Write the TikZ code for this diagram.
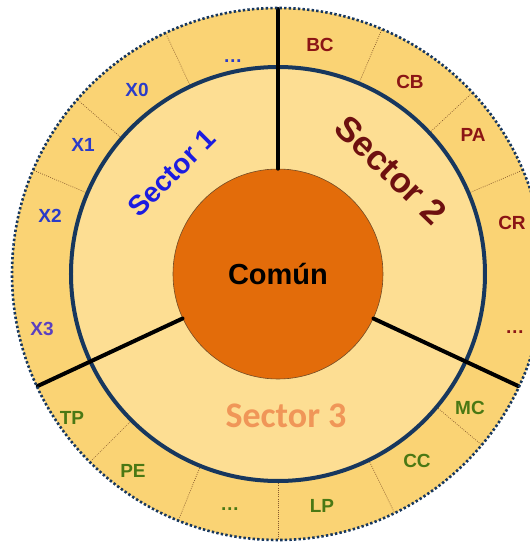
\documentclass[tikz,border=0pt]{standalone}
\usepackage{fontspec}
\setmainfont{Liberation Sans}
\newfontfamily\carlito{Carlito}
\definecolor{anillo}{HTML}{FAD374}
\definecolor{interior}{HTML}{FDDE93}
\definecolor{comun}{HTML}{E36C0A}
\definecolor{marino}{HTML}{17375E}
\definecolor{azul}{HTML}{2B3CC8}
\definecolor{azulfuerte}{HTML}{1C1CE0}
\definecolor{morado}{HTML}{5A40C0}
\definecolor{rojo}{HTML}{8B1515}
\definecolor{granate}{HTML}{6E1010}
\definecolor{verde}{HTML}{4A7814}
\definecolor{naranja}{HTML}{F09658}
\tikzset{
  etiq/.style={font=\fontsize{19}{19}\selectfont\bfseries},
  divisor/.style={draw=brown!70!black, line width=0.7, dash pattern=on 0.8 off 1.4},
  radio/.style={line width=4, line cap=round}
}
\begin{document}
\begin{tikzpicture}[x=1pt, y=1pt]
    \useasboundingbox (-278,-268) rectangle (252,274);
    \fill[anillo] (0,0) circle (266);
    \fill[interior] (0,0) circle (207);
    % divisiones punteadas del anillo
    \foreach \a in {115,139,157,67,43,23,225,248,270,296,320}
        {
            \coordinate (d\a) at (\a:207);
            \coordinate (e\a) at (\a:266);
            \draw[divisor] (d\a) -- (e\a);
        }
    \draw[marino, line width=4] (0,0) circle (207);
    \node[circle, fill=comun, draw=brown!60!black, line width=0.6, minimum size=210, inner sep=0,
        font=\fontsize{29}{29}\selectfont\bfseries] (comun) at (0,0) {Común};
    % radios gruesos
    \foreach \a in {90,205,335}
        {
            \coordinate (r\a) at (\a:265);
            \draw[radio] (comun.\a) -- (r\a);
        }
    \draw[marino, line width=2.6, dash pattern=on 2.4 off 2.2] (0,0) circle (266);
    % sector 1
    \node[font=\fontsize{28}{28}\selectfont\bfseries, text=azulfuerte, rotate=45] (s1) at (-106,101) {Sector 1};
    \foreach \n/\x/\y/\t in {p1/-45/213/\dots, x0/-141/184/X0, x1/-195/129/X1, x2/-228/58/X2}
        \node[etiq, text=azul] (\n) at (\x,\y) {\t};
    \node[etiq, text=morado] (x3) at (-236,-55) {X3};
    % sector 2
    \node[font=\fontsize{35}{35}\selectfont\bfseries, text=granate, rotate=-44] (s2) at (113,104) {Sector 2};
    \foreach \n/\x/\y/\t in {bc/42/229/BC, cb/132/192/CB, pa/195/139/PA, cr/234/51/CR, p2/237/-58/\dots}
        \node[etiq, text=rojo] (\n) at (\x,\y) {\t};
    % sector 3
    \node[font=\fontsize{36}{36}\selectfont\carlito\bfseries, text=naranja] (s3) at (8,-142) {Sector 3};
    \foreach \n/\x/\y/\t in {tp/-206/-144/TP, pe/-145/-197/PE, p3/-48/-235/\dots, lp/44/-232/LP, cc/139/-187/CC, mc/192/-134/MC}
        \node[etiq, text=verde] (\n) at (\x,\y) {\t};
\end{tikzpicture}
\end{document}
